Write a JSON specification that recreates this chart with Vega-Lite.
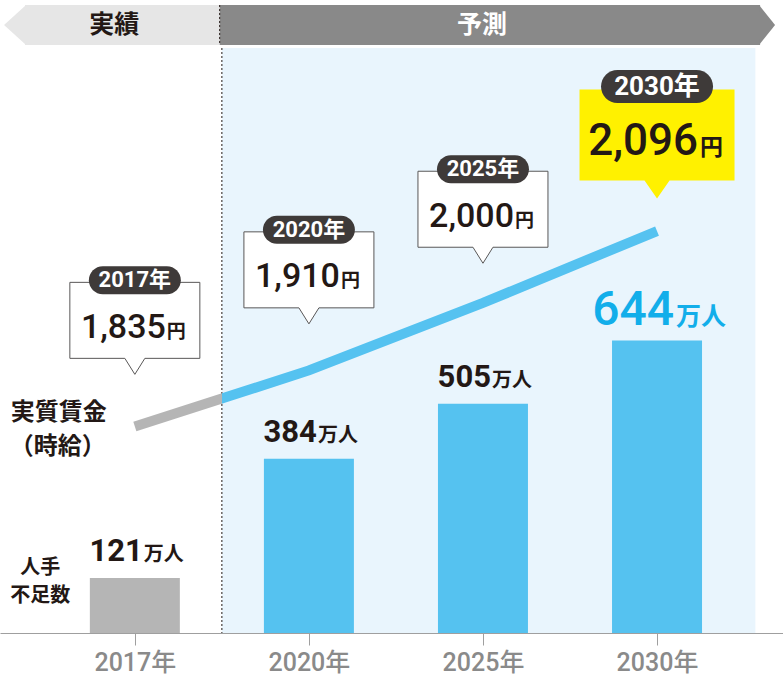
{
  "$schema": "https://vega.github.io/schema/vega-lite/v6.json",
  "background": "white",
  "padding": {"top": 4, "bottom": 0, "left": 0, "right": 0},
  "config": {
    "view": {"stroke": null},
    "axisX": {"title": null, "grid": false, "domainColor": "#9f9f9f", "tickColor": "#9f9f9f", "tickSize": 12, "labelFontSize": 25, "labelFont": "Roboto, 'Noto Sans CJK JP'", "labelFontWeight": 500, "labelColor": "#8a8a8a", "labelPadding": 5, "labelFlush": false, "labelOverlap": false}
  },
  "spacing": 1,
  "datasets": {
    "main": [
      {"year": "2017年", "idx": 0, "period": "実績", "shortage": 121, "wage": 1835},
      {"year": "2020年", "idx": 1, "period": "予測", "shortage": 384, "wage": 1910},
      {"year": "2025年", "idx": 2, "period": "予測", "shortage": 505, "wage": 2000},
      {"year": "2030年", "idx": 3, "period": "予測", "shortage": 644, "wage": 2096}
    ],
    "periods": [
      {"period": "実績", "start": -0.604, "end": 0.5},
      {"period": "予測", "start": 0.5, "end": 3.565}
    ]
  },
  "vconcat": [
    {
      "width": 783,
      "height": 40,
      "data": {"name": "periods"},
      "layer": [
        {
          "mark": {"type": "rect"},
          "encoding": {
            "x": {"field": "start", "type": "quantitative", "scale": {"domain": [-0.746, 3.695], "nice": false, "zero": false}, "axis": null},
            "x2": {"field": "end"},
            "color": {"condition": {"test": "datum.period==='実績'", "value": "#e6e6e6"}, "value": "#898989"}
          }
        },
        {
          "transform": [{"filter": "datum.period==='実績'"}],
          "mark": {"type": "point", "shape": "M1,-20L-21,0L1,20Z", "size": 4, "filled": true, "fill": "#e6e6e6", "opacity": 1, "strokeWidth": 0},
          "encoding": {"x": {"field": "start", "type": "quantitative", "scale": {"domain": [-0.746, 3.695], "nice": false, "zero": false}, "axis": null}}
        },
        {
          "transform": [{"filter": "datum.period==='予測'"}],
          "mark": {"type": "point", "shape": "M-1,-20L15,0L-1,20Z", "size": 4, "filled": true, "fill": "#898989", "opacity": 1, "strokeWidth": 0},
          "encoding": {"x": {"field": "end", "type": "quantitative", "scale": {"domain": [-0.746, 3.695], "nice": false, "zero": false}, "axis": null}}
        },
        {
          "transform": [{"filter": "datum.period==='予測'"}],
          "mark": {"type": "rule", "strokeDash": [2, 2], "color": "#231815", "strokeWidth": 1},
          "encoding": {"x": {"field": "start", "type": "quantitative", "scale": {"domain": [-0.746, 3.695], "nice": false, "zero": false}, "axis": null}}
        },
        {
          "transform": [{"calculate": "(datum.start+datum.end)/2", "as": "mid"}],
          "mark": {"type": "text", "dx": -8, "fontSize": 25, "fontWeight": "bold", "font": "'Noto Sans CJK JP'", "baseline": "middle", "align": "center"},
          "encoding": {
            "x": {"field": "mid", "type": "quantitative", "scale": {"domain": [-0.746, 3.695], "nice": false, "zero": false}, "axis": null},
            "text": {"field": "period"},
            "color": {"condition": {"test": "datum.period==='実績'", "value": "#231815"}, "value": "#ffffff"}
          }
        }
      ]
    },
    {
      "width": 783,
      "height": 585,
      "layer": [
        {
          "data": {"name": "periods"},
          "transform": [{"filter": "datum.period==='予測'"}],
          "mark": {"type": "rect", "color": "#e9f5fd"},
          "encoding": {
            "x": {"field": "start", "type": "quantitative", "scale": {"domain": [-0.746, 3.695], "nice": false, "zero": false}, "axis": {"values": [0, 1, 2, 3], "labelExpr": "['2017年','2020年','2025年','2030年'][datum.value]"}},
            "x2": {"field": "end"}
          }
        },
        {
          "data": {"name": "periods"},
          "transform": [{"filter": "datum.period==='予測'"}],
          "mark": {"type": "rule", "strokeDash": [2, 2], "color": "#231815", "strokeWidth": 1},
          "encoding": {"x": {"field": "start", "type": "quantitative", "scale": {"domain": [-0.746, 3.695], "nice": false, "zero": false}, "axis": {"values": [0, 1, 2, 3], "labelExpr": "['2017年','2020年','2025年','2030年'][datum.value]"}}}
        },
        {
          "data": {"name": "main"},
          "encoding": {
            "x": {"field": "idx", "type": "quantitative", "scale": {"domain": [-0.746, 3.695], "nice": false, "zero": false}, "axis": {"values": [0, 1, 2, 3], "labelExpr": "['2017年','2020年','2025年','2030年'][datum.value]"}},
            "y": {"field": "shortage", "type": "quantitative", "scale": {"domain": [0, 1288.5], "nice": false, "zero": true}, "axis": null}
          },
          "layer": [
            {
              "mark": {"type": "bar", "width": 90},
              "encoding": {
                "color": {"condition": {"test": "datum.idx===0", "value": "#b5b5b5"}, "value": "#55c2f0"}
              }
            },
            {
              "transform": [{"filter": "datum.idx<3"}],
              "mark": {"type": "text", "align": "right", "baseline": "alphabetic", "dx": 8, "dy": -17, "fontSize": 31, "fontWeight": "bold", "font": "Roboto", "color": "#231815"},
              "encoding": {"text": {"field": "shortage", "type": "quantitative"}}
            },
            {
              "transform": [{"filter": "datum.idx<3"}],
              "mark": {"type": "text", "text": "万人", "align": "left", "baseline": "alphabetic", "dx": 9, "dy": -17, "fontSize": 20, "fontWeight": "bold", "font": "'Noto Sans CJK JP'", "color": "#231815"}
            },
            {
              "transform": [{"filter": "datum.idx===3"}],
              "mark": {"type": "text", "align": "right", "baseline": "alphabetic", "dx": 17, "dy": -15.6, "fontSize": 48, "fontWeight": 500, "font": "Roboto", "color": "#12aeea"},
              "encoding": {"text": {"field": "shortage", "type": "quantitative"}}
            },
            {
              "transform": [{"filter": "datum.idx===3"}],
              "mark": {"type": "text", "text": "万人", "align": "left", "baseline": "alphabetic", "dx": 19, "dy": -15.6, "fontSize": 25, "fontWeight": "bold", "font": "'Noto Sans CJK JP'", "color": "#12aeea"}
            },
            {
              "transform": [{"filter": "datum.idx===0"}],
              "mark": {"type": "text", "text": "人手", "align": "center", "baseline": "middle", "dx": -94.5, "dy": -10, "fontSize": 20, "fontWeight": "bold", "font": "'Noto Sans CJK JP'", "color": "#231815"}
            },
            {
              "transform": [{"filter": "datum.idx===0"}],
              "mark": {"type": "text", "text": "不足数", "align": "center", "baseline": "middle", "dx": -94.5, "dy": 18, "fontSize": 20, "fontWeight": "bold", "font": "'Noto Sans CJK JP'", "color": "#231815"}
            }
          ]
        },
        {
          "data": {"name": "main"},
          "encoding": {
            "x": {"field": "idx", "type": "quantitative", "scale": {"domain": [-0.746, 3.695], "nice": false, "zero": false}, "axis": {"values": [0, 1, 2, 3], "labelExpr": "['2017年','2020年','2025年','2030年'][datum.value]"}},
            "y": {"field": "wage", "type": "quantitative", "scale": {"domain": [1559.6, 2340.2], "nice": false, "zero": false}, "axis": null}
          },
          "layer": [
            {
              "mark": {"type": "line", "strokeWidth": 10, "strokeCap": "butt", "interpolate": "linear",
                "stroke": {"gradient": "linear", "x1": 0, "y1": 0, "x2": 1, "y2": 0,
                  "stops": [{"offset": 0, "color": "#b5b5b5"}, {"offset": 0.167, "color": "#b5b5b5"}, {"offset": 0.167, "color": "#55c2f0"}, {"offset": 1, "color": "#55c2f0"}]}}
            },
            {
              "transform": [{"filter": "datum.idx===0"}],
              "mark": {"type": "text", "text": "実質賃金", "align": "center", "baseline": "middle", "dx": -76, "dy": -14, "fontSize": 24, "fontWeight": "bold", "font": "'Noto Sans CJK JP'", "color": "#231815"}
            },
            {
              "transform": [{"filter": "datum.idx===0"}],
              "mark": {"type": "text", "text": "（時給）", "align": "center", "baseline": "middle", "dx": -77, "dy": 20, "fontSize": 24, "fontWeight": "bold", "font": "'Noto Sans CJK JP'", "color": "#231815"}
            }
          ]
        },
        {
          "data": {"name": "main"},
          "encoding": {
            "x": {"field": "idx", "type": "quantitative", "scale": {"domain": [-0.746, 3.695], "nice": false, "zero": false}, "axis": {"values": [0, 1, 2, 3], "labelExpr": "['2017年','2020年','2025年','2030年'][datum.value]"}},
            "y": {"field": "wage", "type": "quantitative", "scale": {"domain": [1450.95, 2319.6], "nice": false, "zero": false}, "axis": null}
          },
          "layer": [
            {
              "transform": [{"filter": "datum.idx<3"}],
              "mark": {"type": "point", "shape": "M-65,-92L65,-92L65,-16L10,-16L0,0L-10,-16L-65,-16Z", "size": 4, "filled": true, "fill": "#ffffff", "stroke": "#595757", "strokeWidth": 1, "opacity": 1}
            },
            {
              "transform": [{"filter": "datum.idx===3"}],
              "mark": {"type": "point", "shape": "M-77.5,-109L77.5,-109L77.5,-18L12.5,-18L0,0L-12.5,-18L-77.5,-18Z", "size": 4, "filled": true, "fill": "#fff100", "strokeWidth": 0, "opacity": 1}
            },
            {
              "transform": [{"filter": "datum.idx<3"}],
              "mark": {"type": "point", "shape": "M-32,-108L32,-108A14,14 0 0 1 32,-80L-32,-80A14,14 0 0 1 -32,-108Z", "size": 4, "filled": true, "fill": "#3e3a39", "strokeWidth": 0, "opacity": 1}
            },
            {
              "transform": [{"filter": "datum.idx===3"}],
              "mark": {"type": "point", "shape": "M-39.5,-128.5L39.5,-128.5A16.5,16.5 0 0 1 39.5,-95.5L-39.5,-95.5A16.5,16.5 0 0 1 -39.5,-128.5Z", "size": 4, "filled": true, "fill": "#3e3a39", "strokeWidth": 0, "opacity": 1}
            },
            {
              "transform": [{"filter": "datum.idx<3"}],
              "mark": {"type": "text", "align": "center", "baseline": "middle", "dy": -94, "fontSize": 22, "fontWeight": "bold", "font": "Roboto, 'Noto Sans CJK JP'", "color": "#ffffff"},
              "encoding": {"text": {"field": "year"}}
            },
            {
              "transform": [{"filter": "datum.idx===3"}],
              "mark": {"type": "text", "align": "center", "baseline": "middle", "dy": -112, "fontSize": 26, "fontWeight": "bold", "font": "Roboto, 'Noto Sans CJK JP'", "color": "#ffffff"},
              "encoding": {"text": {"field": "year"}}
            },
            {
              "transform": [{"filter": "datum.idx<3"}],
              "mark": {"type": "text", "align": "right", "baseline": "alphabetic", "dx": 31, "dy": -36.5, "fontSize": 34, "fontWeight": 500, "font": "Roboto", "color": "#231815"},
              "encoding": {"text": {"field": "wage", "type": "quantitative", "format": ","}}
            },
            {
              "transform": [{"filter": "datum.idx<3"}],
              "mark": {"type": "text", "text": "円", "align": "left", "baseline": "alphabetic", "dx": 32, "dy": -36.5, "fontSize": 19, "fontWeight": "bold", "font": "'Noto Sans CJK JP'", "color": "#231815"}
            },
            {
              "transform": [{"filter": "datum.idx===3"}],
              "mark": {"type": "text", "align": "right", "baseline": "alphabetic", "dx": 41, "dy": -43.4, "fontSize": 44, "fontWeight": 500, "font": "Roboto", "color": "#231815"},
              "encoding": {"text": {"field": "wage", "type": "quantitative", "format": ","}}
            },
            {
              "transform": [{"filter": "datum.idx===3"}],
              "mark": {"type": "text", "text": "円", "align": "left", "baseline": "alphabetic", "dx": 43, "dy": -43.4, "fontSize": 23, "fontWeight": "bold", "font": "'Noto Sans CJK JP'", "color": "#231815"}
            }
          ]
        }
      ],
      "resolve": {"scale": {"y": "independent"}}
    }
  ]
}
